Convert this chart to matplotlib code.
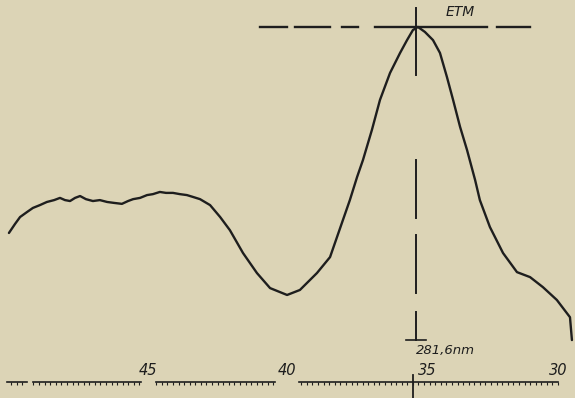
import numpy as np
import matplotlib
matplotlib.use("Agg")
import matplotlib.pyplot as plt

# recorder trace (wavelength scale units, absorbance relative to the peak)
wl = [49.68, 49.46, 49.28, 49.03, 48.82, 48.57, 48.32, 48.06, 47.85, 47.67, 47.49, 47.31,
      47.13, 46.92, 46.67, 46.42, 46.16, 45.91, 45.63, 45.41, 45.23, 44.98, 44.73, 44.52,
      44.27, 44.05, 43.80, 43.55, 43.30, 43.08, 42.83, 42.47, 42.11, 41.76, 41.29, 40.79,
      40.32, 39.71, 39.25, 38.64, 38.17, 37.71, 37.46, 37.20, 36.99, 36.67, 36.38, 36.02,
      35.66, 35.41, 35.20, 35.02, 34.77, 34.48, 34.23, 33.98, 33.76, 33.51, 33.26, 32.97,
      32.80, 32.44, 31.97, 31.47, 31.00, 30.54, 30.04, 29.57, 29.50]
absorb = [0.342, 0.371, 0.393, 0.409, 0.422, 0.431, 0.441, 0.447, 0.454, 0.447, 0.444, 0.454,
          0.460, 0.450, 0.444, 0.447, 0.441, 0.438, 0.435, 0.444, 0.450, 0.454, 0.463, 0.466,
          0.473, 0.470, 0.470, 0.466, 0.463, 0.457, 0.450, 0.431, 0.393, 0.351, 0.278, 0.214,
          0.166, 0.144, 0.160, 0.214, 0.265, 0.383, 0.447, 0.521, 0.575, 0.671, 0.767, 0.853,
          0.917, 0.958, 0.990, 1.000, 0.984, 0.958, 0.917, 0.840, 0.767, 0.681, 0.607, 0.511,
          0.447, 0.361, 0.278, 0.217, 0.201, 0.169, 0.128, 0.073, 0.0]

tick_values = [45, 40, 35, 30]
tick_labels = ["45", "40", "35", "30"]
peak_wl = 35.09
peak_label = "281,6nm"

# hand-drawn construction lines (pieces as drawn on the chart)
h_dashes = [(40.68, 39.71), (39.43, 38.17), (37.74, 37.17), (36.56, 32.54), (32.19, 31.00)]
v_dashes = [(1.061, 0.847), (0.575, 0.390), (0.335, 0.150), (0.089, 0.0)]
axis_segments = [(49.75, 49.03), (48.82, 44.95), (44.41, 40.14), (39.28, 30.0)]

ink = "#1e1e1e"
paper = "#dcd4b6"

fig = plt.figure(figsize=(5.75, 3.98), dpi=100)
fig.patch.set_facecolor(paper)
ax = fig.add_axes([0, 0, 1, 1])
ax.set_facecolor(paper)
ax.set_xlim(50.0, 29.39)
ax.set_ylim(-0.185, 1.086)
ax.axis("off")

# the trace
ax.plot(wl, absorb, color=ink, lw=1.7, solid_joinstyle="round", solid_capstyle="round")

# peak marker lines
for a, b in h_dashes:
    ax.plot([a, b], [1.0, 1.0], color=ink, lw=1.7)
for a, b in v_dashes:
    ax.plot([peak_wl, peak_wl], [a, b], color=ink, lw=1.4)
ax.plot([peak_wl + 0.35, peak_wl - 0.35], [0.0, 0.0], color=ink, lw=1.2)
ax.text(33.5, 1.048, "ETM", fontsize=10, style="italic", color=ink, ha="center", va="center")
ax.text(peak_wl, -0.032, peak_label, fontsize=9.5, style="italic", color=ink,
        ha="left", va="center")

# wavelength scale at the bottom
y_axis = -0.134
for a, b in axis_segments:
    ax.plot([a, b], [y_axis, y_axis], color=ink, lw=1.2)
    minor = np.arange(np.ceil(b * 5) / 5, a, 0.2)
    ax.vlines(minor, y_axis - 0.008, y_axis, color=ink, lw=0.8)
ax.plot([peak_wl + 0.1, peak_wl + 0.1], [-0.112, -0.185], color=ink, lw=1.3)
for v, lab in zip(tick_values, tick_labels):
    off = -0.3 if v != 30 else 0.0
    ax.text(v + off, -0.096, lab, fontsize=10.5, style="italic", color=ink,
            ha="center", va="center")

fig.savefig("out.png", dpi=100, facecolor=paper)
